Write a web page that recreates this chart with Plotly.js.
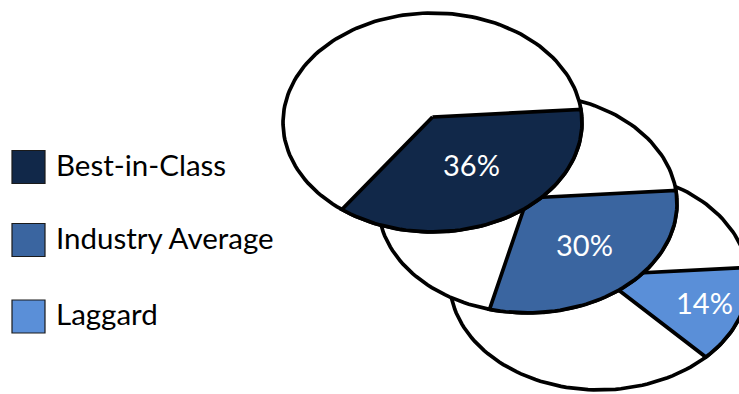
<!DOCTYPE html>
<html>
<head>
<meta charset="utf-8">
<script src="https://cdn.plot.ly/plotly-3.0.1.min.js"></script>
<style>html,body{margin:0;padding:0;background:#fff;}#chart{width:739px;height:394px;}</style>
</head>
<body>
<div id="chart"></div>
<script>
// ---- data ----
const categories = ["Best-in-Class", "Industry Average", "Laggard"];
const values = [36, 30, 14];               // percent
const colors = ["#112849", "#3a65a0", "#5a8fd8"];

// ---- geometry / style (perspective pies, pixel space) ----
const pieCX = [432.5, 527.5, 599];
const pieCY = [117, 198, 275];
const RX = 149.3, RY = 109.2, RHO = 0.05;
const START_DEG = -4;
const labelFrac = [0.52, 0.58, 0.75];
const legendY = [167, 240, 316.5];

function proj(i, phiDeg, f) {
  const p = phiDeg * Math.PI / 180;
  const s = Math.sin(p) * f, c = Math.cos(p) * f;
  const d = 1 - RHO * s;
  return [pieCX[i] + RX * c / d, pieCY[i] + RY * s / d];
}

const traces = [];
const annotations = [];
const shapes = [];
// back to front: Laggard, Industry Average, Best-in-Class
for (let i = categories.length - 1; i >= 0; i--) {
  const ex = [], ey = [];
  for (let a = 0; a <= 360; a += 2) { const q = proj(i, a, 1); ex.push(q[0]); ey.push(q[1]); }
  traces.push({x: ex, y: ey, type: 'scatter', mode: 'lines', fill: 'toself',
    fillcolor: '#ffffff', line: {color: '#000', width: 3.7}, hoverinfo: 'skip', showlegend: false});
  const span = values[i] / 100 * 360;
  const sx = [pieCX[i]], sy = [pieCY[i]];
  const n = Math.max(8, Math.ceil(span / 2));
  for (let k = 0; k <= n; k++) { const q = proj(i, START_DEG + span * k / n, 1); sx.push(q[0]); sy.push(q[1]); }
  sx.push(pieCX[i]); sy.push(pieCY[i]);
  traces.push({x: sx, y: sy, type: 'scatter', mode: 'lines', fill: 'toself', name: categories[i],
    fillcolor: colors[i], line: {color: '#000', width: 3.7}, hoverinfo: 'skip', showlegend: false});
  const lp = proj(i, START_DEG + span / 2, labelFrac[i]);
  annotations.push({x: lp[0], y: lp[1], xref: 'x', yref: 'y', yshift: 3, text: values[i] + '%', showarrow: false,
    font: {family: 'Lato, "Open Sans", sans-serif', size: 29, color: '#ffffff'}, xanchor: 'center', yanchor: 'middle'});
}
// legend
categories.forEach((c, i) => {
  shapes.push({type: 'rect', xref: 'x', yref: 'y', x0: 12, x1: 45, y0: legendY[i] - 16.5, y1: legendY[i] + 16.5,
    fillcolor: colors[i], line: {color: '#1a1a1a', width: 1.2}});
  annotations.push({x: 54, y: legendY[i], xref: 'x', yref: 'y', yshift: 3, text: c, showarrow: false,
    font: {family: 'Lato, "Open Sans", sans-serif', size: 29.5, color: '#000'}, xanchor: 'left', yanchor: 'middle'});
});

const layout = {
  width: 739, height: 394,
  margin: {l: 0, r: 0, t: 0, b: 0},
  paper_bgcolor: '#fff', plot_bgcolor: '#fff',
  xaxis: {range: [0, 739], visible: false, fixedrange: true},
  yaxis: {range: [394, 0], visible: false, fixedrange: true},
  showlegend: false,
  annotations: annotations,
  shapes: shapes
};
Plotly.newPlot('chart', traces, layout, {displayModeBar: false, staticPlot: true});
</script>
</body>
</html>
